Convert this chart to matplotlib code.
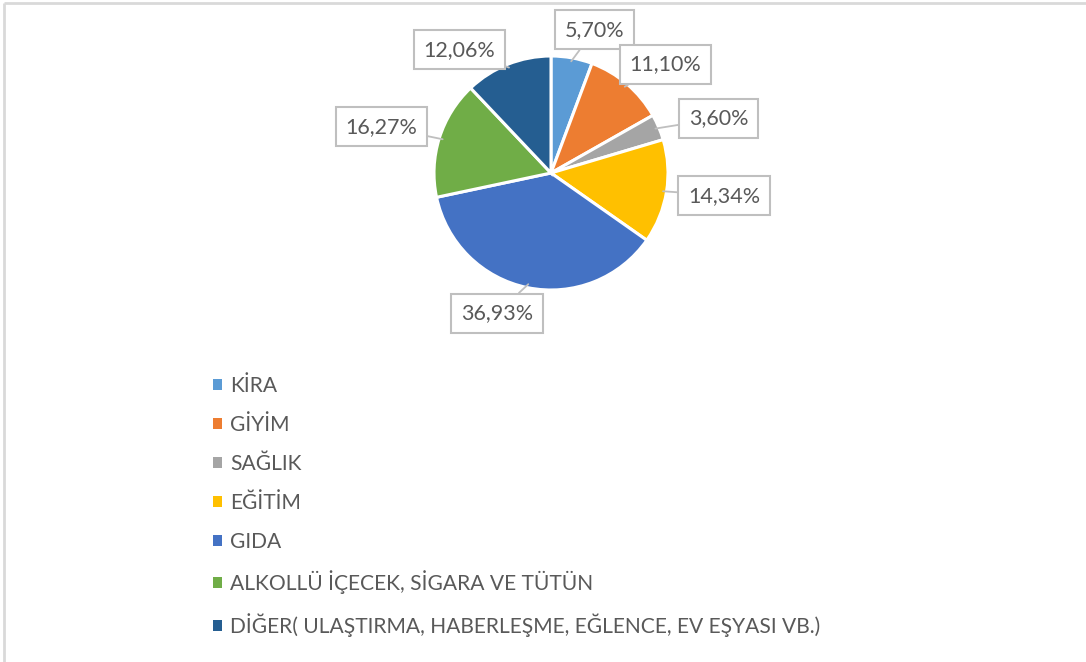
"""Household spending shares pie chart with callout labels."""

import numpy as np
import matplotlib

matplotlib.use("Agg")
from matplotlib import pyplot as plt
from matplotlib.patches import Patch

CATEGORIES = [
    "KİRA",
    "GİYİM",
    "SAĞLIK",
    "EĞİTİM",
    "GIDA",
    "ALKOLLÜ İÇECEK, SİGARA VE TÜTÜN",
    "DİĞER( ULAŞTIRMA, HABERLEŞME, EĞLENCE, EV EŞYASI VB.)",
]
SHARES = [5.70, 11.10, 3.60, 14.34, 36.93, 16.27, 12.06]
COLORS = ["#5B9BD5", "#ED7D31", "#A5A5A5", "#FFC000", "#4472C4", "#70AD47", "#255E91"]
# small angular shifts (degrees) so neighbouring callouts do not collide
LABEL_NUDGE = [-6.7, -6.0, -5.0, 1.8, -9.5, 2.0, 15.0]

TEXT_COLOR = "#595959"
BOX_EDGE = "#BFBFBF"
FONT = ["Lato", "DejaVu Sans"]

W, H = 1086, 662
CX, CY, R = 551, H - 173, 117

fig = plt.figure(figsize=(W / 100, H / 100), dpi=100)
ax = fig.add_axes([0, 0, 1, 1])

wedges, _ = ax.pie(
    SHARES,
    colors=COLORS,
    startangle=90,
    counterclock=False,
    center=(CX, CY),
    radius=R,
    wedgeprops={"edgecolor": "white", "linewidth": 2.2},
)

# callout labels placed just outside each wedge
half_w, half_h, gap = 44, 19, 13
for wedge, share, nudge in zip(wedges, SHARES, LABEL_NUDGE):
    mid = np.deg2rad((wedge.theta1 + wedge.theta2) / 2)
    ang = mid + np.deg2rad(nudge)
    c, s = np.cos(ang), np.sin(ang)
    edge = min(half_w / max(abs(c), 1e-6), half_h / max(abs(s), 1e-6))
    dist = R + gap + edge
    label = f"{share:.2f}%".replace(".", ",")
    ax.annotate(
        label,
        xy=(CX + R * 0.97 * np.cos(mid), CY + R * 0.97 * np.sin(mid)),
        xytext=(CX + dist * c, CY + dist * s),
        ha="center",
        va="center",
        fontsize=15.5,
        family=FONT,
        color=TEXT_COLOR,
        bbox={"boxstyle": "square,pad=0.45", "fc": "white", "ec": BOX_EDGE, "lw": 1.5},
        arrowprops={"arrowstyle": "-", "color": BOX_EDGE, "lw": 1.3, "shrinkA": 0, "shrinkB": 0},
        zorder=5,
    )

handles = [Patch(facecolor=col, edgecolor="none") for col in COLORS]
leg = ax.legend(
    handles,
    CATEGORIES,
    loc="upper left",
    bbox_to_anchor=(213 / W, 1 - 376 / H),
    frameon=False,
    prop={"family": FONT, "size": 15.1},
    handlelength=0.43,
    handleheight=0.43,
    handletextpad=0.4,
    labelspacing=0.9,
    borderpad=0,
    borderaxespad=0,
)
for txt in leg.get_texts():
    txt.set_color(TEXT_COLOR)

# chart frame edges visible in the screenshot
ax.plot([4, W], [H - 3, H - 3], color="#D9D9D9", lw=2, solid_capstyle="butt")
ax.plot([4, 4], [0, H - 3], color="#D9D9D9", lw=2, solid_capstyle="butt")

ax.set_xlim(0, W)
ax.set_ylim(0, H)
ax.set_aspect("equal")
ax.axis("off")

fig.savefig("out.png", dpi=100)
